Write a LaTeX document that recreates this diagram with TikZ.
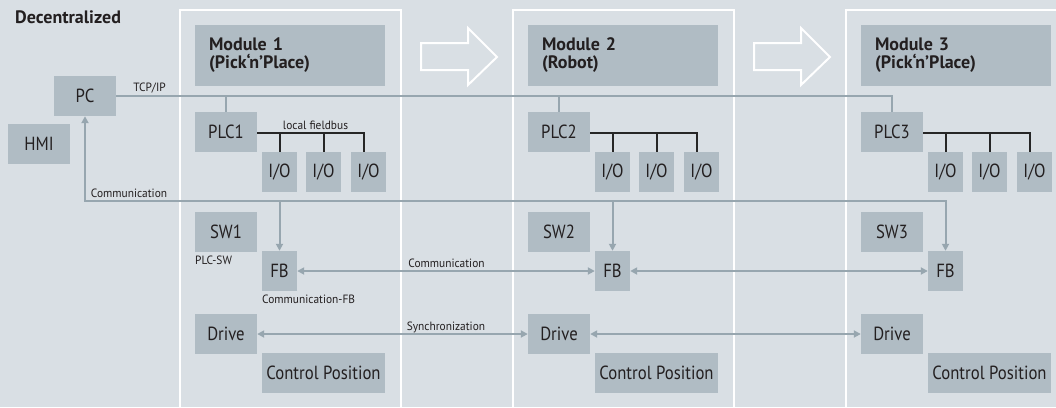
\documentclass[tikz,border=0pt]{standalone}
\usepackage{fontspec}
\setmainfont{PT Sans}
\newfontfamily\dgfont[FakeStretch=0.88]{PT Sans}
\newfontfamily\lblfont[FakeStretch=0.95]{PT Sans}
\newfontfamily\hdfont{PT Sans}
\usetikzlibrary{arrows.meta,calc}
\definecolor{bgc}{HTML}{D9DFE4}
\definecolor{boxc}{HTML}{B0BCC4}
\definecolor{linec}{HTML}{97A6AF}
\definecolor{txt}{HTML}{231F20}
\begin{document}
\begin{tikzpicture}[x=1pt,y=-1pt,
  box/.style={fill=boxc, inner sep=0pt, text=txt, font=\dgfont\fontsize{19}{19}\selectfont},
  wbox/.style={box, minimum width=62, minimum height=40},
  nbox/.style={box, minimum width=35, minimum height=40},
  tbox/.style={fill=boxc, inner xsep=14pt, inner ysep=0pt, minimum height=61, text width=162pt, align=left, text=txt, font=\hdfont\bfseries\fontsize{18}{18}\selectfont},
  lbl/.style={inner sep=0pt, text=txt, font=\lblfont\fontsize{12}{12}\selectfont},
  gl/.style={draw=linec, line width=2pt},
  fbl/.style={draw=black!85, line width=2pt},
  frame/.style={draw=white, line width=2pt},
  bigarrow/.style={draw=white, line width=2pt, line join=miter},
  tip/.style={-{Triangle[length=7pt,width=7pt]}},
  tips/.style={{Triangle[length=7pt,width=7pt]}-{Triangle[length=7pt,width=7pt]}}]
\path[use as bounding box, fill=bgc] (0,0) rectangle (1056,407);
\clip (0,0) rectangle (1056,407);

\node[inner sep=0pt, anchor=base west, text=txt, font=\hdfont\bfseries\fontsize{18}{18}\selectfont] (title) at (15,23) {Decentralized};

% module frames
\foreach \i/\dx in {1/0,2/333,3/666}{
  \draw[frame] (180+\dx,10) rectangle (401+\dx,420);
}
% big hollow arrows
\foreach \dx in {0,333}{
  \draw[bigarrow] (421+\dx,43) -- (468+\dx,43) -- (468+\dx,28) -- (497+\dx,57) -- (468+\dx,85) -- (468+\dx,70) -- (421+\dx,70) -- cycle;
}

% PC, HMI
\node[wbox] (pc) at (85,96) {PC};
\node[wbox] (hmi) at (39,144) {HMI};

% module contents
\foreach \i/\dx/\sub in {1/0/Pick‘n’Place,2/333/Robot,3/666/Pick‘n’Place}{
  \node[tbox] (t\i) at (290+\dx,55.5) {Module \i\\(\sub)};
  \node[wbox] (plc\i) at (226+\dx,132) {PLC\i};
  \node[nbox] (ioa\i) at (279.5+\dx,172) {I/O};
  \node[nbox] (iob\i) at (323.5+\dx,172) {I/O};
  \node[nbox] (ioc\i) at (368.5+\dx,172) {I/O};
  \node[wbox] (sw\i) at (226+\dx,232) {SW\i};
  \node[nbox] (fb\i) at (279.5+\dx,271) {FB};
  \node[wbox] (drive\i) at (226+\dx,334) {Drive};
  \node[box, minimum width=123, minimum height=40] (cp\i) at (323.5+\dx,373) {Control Position};
  % local fieldbus
  \coordinate (fbus\i) at ([yshift=-1pt]plc\i.east);
  \draw[fbl] (fbus\i) -| ([xshift=-5pt]ioc\i.north);
  \draw[fbl] (ioa\i.north) -- (ioa\i.north |- fbus\i);
  \draw[fbl] (iob\i.north) -- (iob\i.north |- fbus\i);
}

% TCP/IP
\draw[gl] (pc.east) -| (plc3.north);
\draw[gl] (plc1.north) -- (plc1.north |- pc.east);
\draw[gl] (plc2.north) -- (plc2.north |- pc.east);

% Communication to PC and FBs
\coordinate (cy) at (0,201);
\draw[gl, tips] (pc.south) -- (pc.south |- cy) -| (fb3.north);
\draw[gl, tip] (fb1.north |- cy) -- (fb1.north);
\draw[gl, tip] (fb2.north |- cy) -- (fb2.north);

% FB communication and synchronization
\draw[gl, tips] (fb1.east) -- (fb2.west);
\draw[gl, tips] (fb2.east) -- (fb3.west);
\draw[gl, tips] (drive1.east) -- (drive2.west);
\draw[gl, tips] (drive2.east) -- (drive3.west);

% labels
\node[lbl] (ltcp) at (149.5,88) {TCP/IP};
\node[lbl] (lfield) at (315.5,125) {local fieldbus};
\node[lbl] (lcomm1) at (129,193) {Communication};
\node[lbl, anchor=west] (lplcsw) at (195,260) {PLC-SW};
\node[lbl, anchor=west] (lcommfb) at (262,299) {Communication-FB};
\node[lbl] (lcomm2) at (446.5,263) {Communication};
\node[lbl] (lsync) at (446,327) {Synchronization};
\end{tikzpicture}
\end{document}
